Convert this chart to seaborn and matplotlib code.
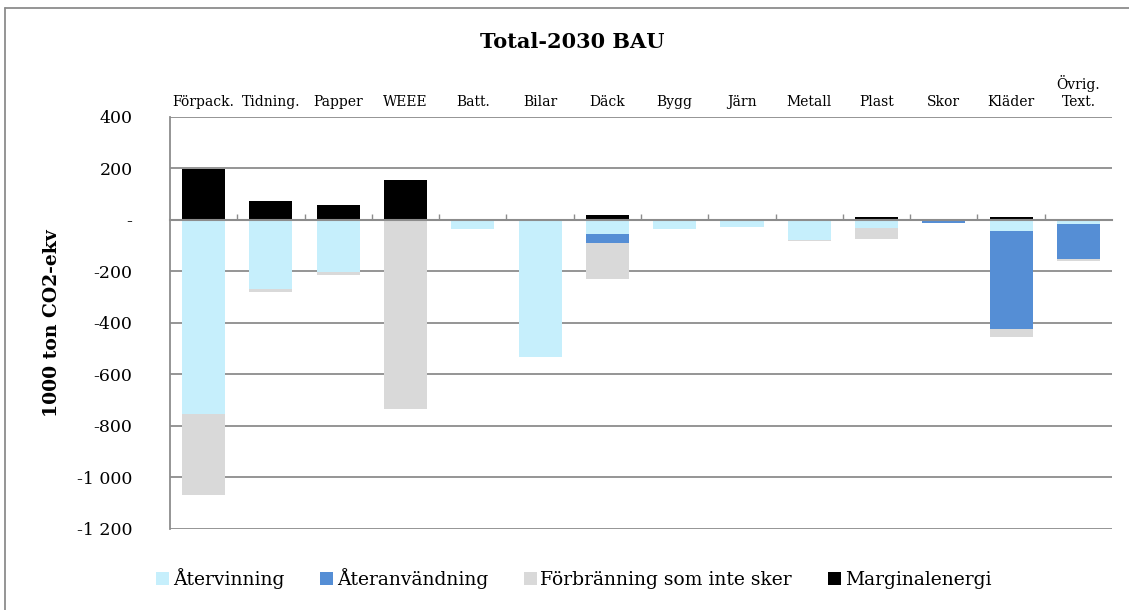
import numpy as np
import pandas as pd
import matplotlib
matplotlib.use("Agg")
import matplotlib.pyplot as plt
from matplotlib.lines import Line2D
from matplotlib.patches import Patch
from matplotlib.ticker import FixedLocator, FuncFormatter
import seaborn as sns

# Emissions per material flow, 1000 ton CO2-ekv
categories = ["Förpack.", "Tidning.", "Papper", "WEEE", "Batt.", "Bilar", "Däck",
              "Bygg", "Järn", "Metall", "Plast", "Skor", "Kläder", "Övrig.\nText."]
atervinning = [-753, -268, -202, -5, -35, -532, -54, -36, -26, -78, -30, 0, -41, -15]
ateranvandning = [0, 0, 0, 0, 0, 0, -35, 0, 0, 0, 0, -13, -383, -138]
forbranning = [-315, -12, -12, -729, 0, 0, -139, 0, 0, -2, -45, 0, -29, -6]
marginalenergi = [197, 74, 58, 155, 0, 0, 19, 0, 0, 0, 10, 0, 10, 0]

y_ticks = [400, 200, 0, -200, -400, -600, -800, -1000, -1200]

series_names = ["Återvinning", "Återanvändning", "Förbränning som inte sker", "Marginalenergi"]
colors = {"Återvinning": "#C6EFFC", "Återanvändning": "#558ED5",
          "Förbränning som inte sker": "#D9D9D9", "Marginalenergi": "#000000"}

df = pd.DataFrame({
    "kategori": categories,
    "Återvinning": atervinning,
    "Återanvändning": ateranvandning,
    "Förbränning som inte sker": forbranning,
    "Marginalenergi": marginalenergi,
})
# Negative parts are stacked downwards from zero: draw cumulative sums, deepest first
df["neg_1"] = df["Återvinning"]
df["neg_2"] = df["neg_1"] + df["Återanvändning"]
df["neg_3"] = df["neg_2"] + df["Förbränning som inte sker"]

sns.set_theme(style="white")
plt.rcParams["font.family"] = ["DejaVu Serif"]
for key in ["text.color", "axes.labelcolor", "xtick.color", "ytick.color"]:
    plt.rcParams[key] = "#000000"

fig = plt.figure(figsize=(11.29, 6.10), dpi=100)
ax = fig.add_axes([0.1506, 0.1328, 0.8344, 0.6754])

bar_w = 0.64
for col, name in [("neg_3", "Förbränning som inte sker"),
                  ("neg_2", "Återanvändning"),
                  ("neg_1", "Återvinning"),
                  ("Marginalenergi", "Marginalenergi")]:
    sns.barplot(data=df, x="kategori", y=col, color=colors[name], width=bar_w,
                saturation=1, ax=ax, errorbar=None, zorder=3, linewidth=0)

ax.set_ylim(-1200, 400)
ax.set_xlim(-0.5, len(categories) - 0.5)
ax.yaxis.set_major_locator(FixedLocator(y_ticks))


def fmt(v, pos):
    if v == 0:
        return "-"
    s = f"{abs(int(v)):,}".replace(",", " ")
    return ("-" if v < 0 else "") + s


ax.yaxis.set_major_formatter(FuncFormatter(fmt))
ax.grid(axis="y", color="#8C8C8C", linewidth=1.3, zorder=0)
ax.grid(axis="x", visible=False)

for s in ["top", "right"]:
    ax.spines[s].set_visible(False)
ax.spines["left"].set_color("#8C8C8C")
ax.spines["left"].set_linewidth(1.3)
ax.spines["bottom"].set_position(("data", 0))
ax.spines["bottom"].set_color("#8C8C8C")
ax.spines["bottom"].set_linewidth(1.5)
ax.spines["bottom"].set_zorder(4)

ax.xaxis.set_ticks_position("top")
ax.xaxis.set_minor_locator(FixedLocator(np.arange(0.5, len(categories) - 0.5, 1.0)))
ax.tick_params(axis="x", which="major", top=True, labeltop=True, bottom=False,
               labelbottom=False, length=0, pad=6, labelsize=10)
ax.tick_params(axis="x", which="minor", bottom=True, top=False, direction="in",
               length=4, width=1, color="#8C8C8C")
ax.tick_params(axis="y", length=0, pad=27, labelsize=12.5)
ax.set_xlabel("")
ax.set_ylabel("1000 ton CO2-ekv", fontsize=13.5, fontweight="bold")
ax.yaxis.set_label_coords(-0.116, 0.5)

fig.suptitle("Total-2030 BAU", x=0.507, y=0.931, fontsize=15, fontweight="bold",
             va="center")

handles = [Patch(facecolor=colors[n], edgecolor="none", label=n) for n in series_names]
fig.legend(handles=handles, loc="center", bbox_to_anchor=(0.508, 0.052), ncol=4,
           frameon=False, fontsize=13.5, handlelength=0.7, handleheight=0.7,
           handletextpad=0.2, columnspacing=1.9)

# outer frame of the chart area (left and top edges)
frame_kw = dict(transform=fig.transFigure, color="#8C8C8C", linewidth=1.3)
fig.lines.append(Line2D([0.0045, 0.0045], [0.0, 0.987], **frame_kw))
fig.lines.append(Line2D([0.0045, 1.0], [0.987, 0.987], **frame_kw))

fig.savefig("out.png", dpi=100)
